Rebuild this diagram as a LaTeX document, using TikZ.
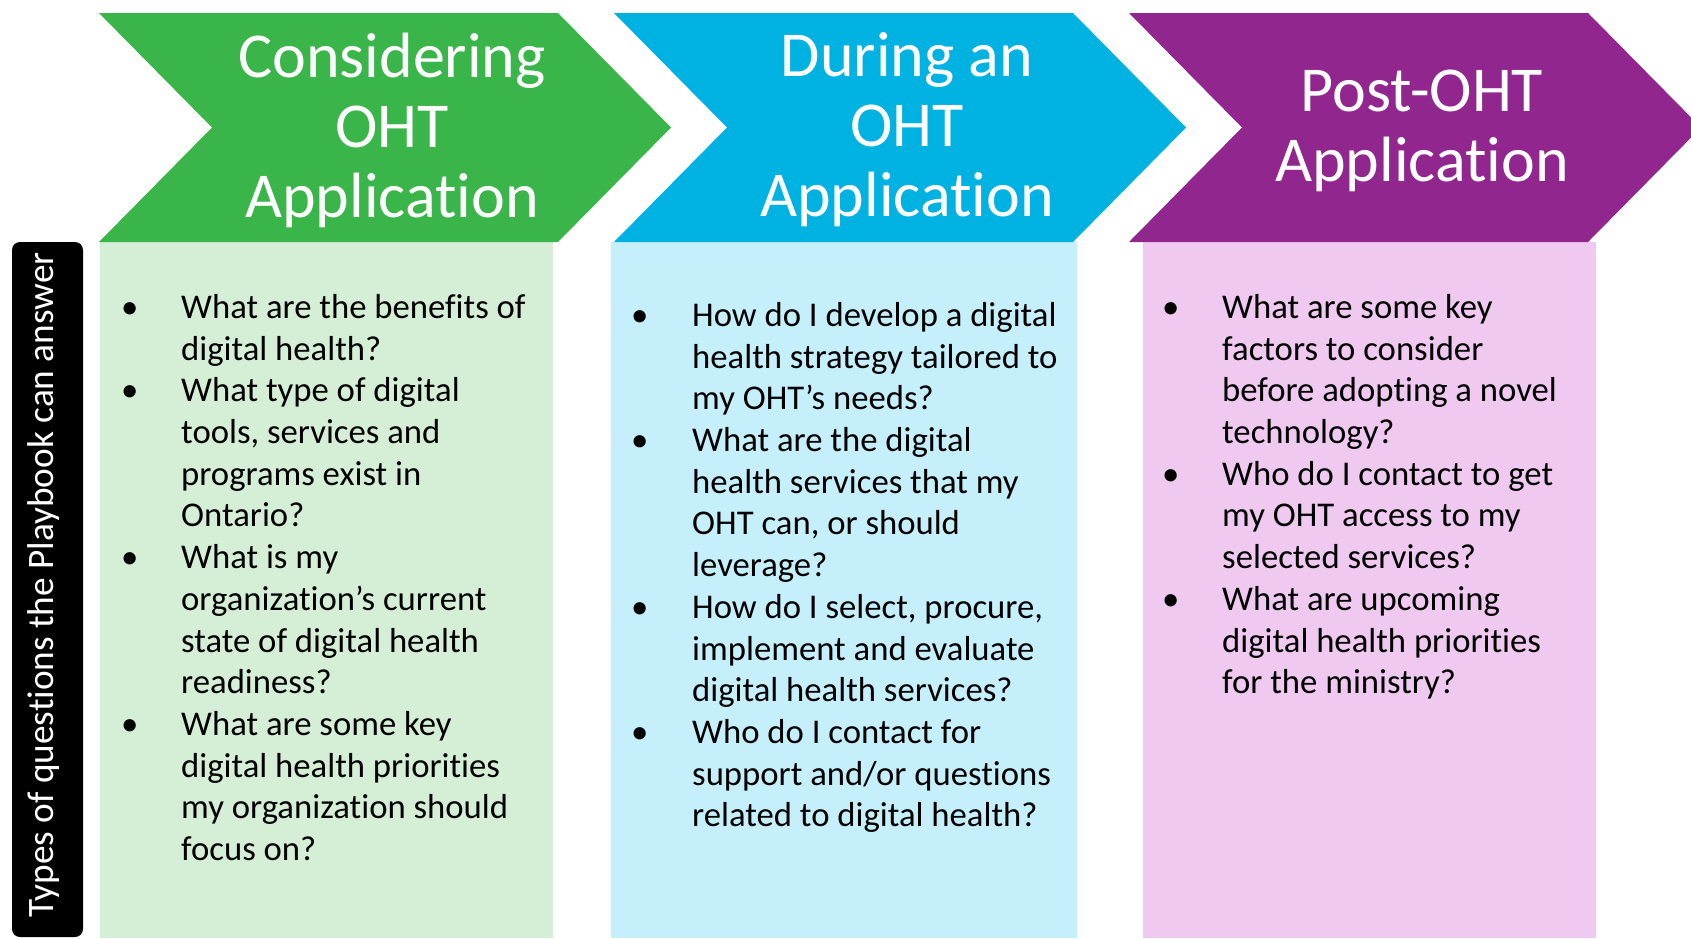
\documentclass[tikz,border=0pt]{standalone}
\usepackage{fontspec}
\setmainfont{Carlito}[Ligatures=NoCommon]
\usepackage{xcolor}
\definecolor{phaseGreen}{HTML}{3AB54A}
\definecolor{phaseBlue}{HTML}{00B2E2}
\definecolor{phasePurple}{HTML}{91278E}
\definecolor{paleGreen}{HTML}{D5EFD7}
\definecolor{paleBlue}{HTML}{C6EFFC}
\definecolor{palePurple}{HTML}{EFC9EF}
\usepackage{tikz}
\tikzset{
    phasebox/.style={
        draw=none
    },
    title/.style={
        text=white,
        align=center,
        inner sep=0pt,
        font=\fontsize{64}{70}\selectfont
    },
    questions/.style={
        anchor=north west,
        inner sep=0pt,
        align=left,
        font=\fontsize{34.7}{41.7}\selectfont
    },
    sidelabel/.style={
        rotate=90,
        text=white,
        inner sep=0pt,
        font=\fontsize{37.3}{40}\selectfont
    }
}
% chevron with left edge at #1
\newcommand{\chevron}[2]{%
    \fill[#2] (#1,13) -- ({#1+459},13) -- ({#1+572},127.5) -- ({#1+459},242)
        -- (#1,242) -- ({#1+113},127.5) -- cycle;}

\begin{document}
\begin{tikzpicture}[x=1pt,y=-1pt]
    \useasboundingbox (0,0) rectangle (1691,938);

    % Question columns
    \fill[paleGreen] (100,242) rectangle (553,938);
    \fill[paleBlue] (611,242) rectangle (1077,938);
    \fill[palePurple] (1143,242) rectangle (1596,938);

    % Phase chevrons
    \chevron{99}{phaseGreen}
    \chevron{614}{phaseBlue}
    \chevron{1129}{phasePurple}

    \node[title] (tConsider) at (392,130) {Considering\\OHT\\Application};
    \node[title] (tDuring) at (907,130) {During an\\OHT\\Application};
    \node[title] (tPost) at (1422,131) {Post-OHT\\Application};

    % Side label
    \fill[black, rounded corners=8pt] (12,242) rectangle (83,937);
    \node[sidelabel] (side) at (44,585) {Types of questions the Playbook can answer};

    % Questions
    \node[questions] (qConsider) at (121,289) {%
        \begin{tabular}{@{}p{60pt}@{}l@{}}
        • & What are the benefits of\\
          & digital health?\\
        • & What type of digital\\
          & tools, services and\\
          & programs exist in\\
          & Ontario?\\
        • & What is my\\
          & organization’s current\\
          & state of digital health\\
          & readiness?\\
        • & What are some key\\
          & digital health priorities\\
          & my organization should\\
          & focus on?
        \end{tabular}};
    \node[questions] (qDuring) at (631,297) {%
        \begin{tabular}{@{}p{61pt}@{}l@{}}
        • & How do I develop a digital\\
          & health strategy tailored to\\
          & my OHT’s needs?\\
        • & What are the digital\\
          & health services that my\\
          & OHT can, or should\\
          & leverage?\\
        • & How do I select, procure,\\
          & implement and evaluate\\
          & digital health services?\\
        • & Who do I contact for\\
          & support and/or questions\\
          & related to digital health?
        \end{tabular}};
    \node[questions] (qPost) at (1162,289) {%
        \begin{tabular}{@{}p{60pt}@{}l@{}}
        • & What are some key\\
          & factors to consider\\
          & before adopting a novel\\
          & technology?\\
        • & Who do I contact to get\\
          & my OHT access to my\\
          & selected services?\\
        • & What are upcoming\\
          & digital health priorities\\
          & for the ministry?
        \end{tabular}};
\end{tikzpicture}
\end{document}
